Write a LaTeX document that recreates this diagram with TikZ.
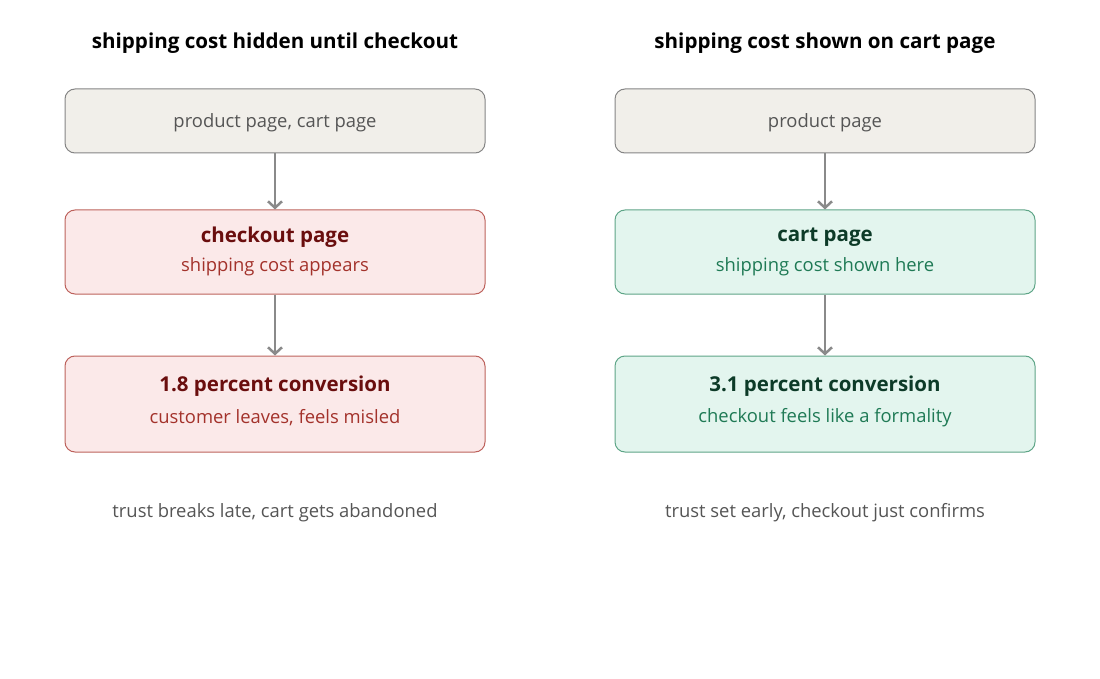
\documentclass[tikz,border=0pt]{standalone}
\usepackage{fontspec}
\setmainfont{Open Sans}
\usetikzlibrary{arrows.meta}

\definecolor{greyfill}{HTML}{F1EFEA}
\definecolor{greyline}{HTML}{858585}
\definecolor{greytext}{HTML}{555555}
\definecolor{redfill}{HTML}{FBE9E9}
\definecolor{redline}{HTML}{BD625C}
\definecolor{redhead}{HTML}{6A0E0E}
\definecolor{redsub}{HTML}{A3322B}
\definecolor{greenfill}{HTML}{E3F5EE}
\definecolor{greenline}{HTML}{5EA587}
\definecolor{greenhead}{HTML}{0D3B28}
\definecolor{greensub}{HTML}{1F7A55}
\definecolor{arrowgrey}{HTML}{8A8A8A}

\begin{document}
\begin{tikzpicture}[x=1pt,y=-1pt,
  every node/.style={inner sep=0pt},
  box/.style={draw, rounded corners=10pt, line width=1pt, minimum width=420pt},
  plain/.style={box, draw=greyline, fill=greyfill},
  bad/.style={box, draw=redline, fill=redfill},
  good/.style={box, draw=greenline, fill=greenfill},
  head/.style={font=\fontsize{20.6}{24}\selectfont\bfseries, text=black},
  big/.style={font=\fontsize{20.5}{24}\selectfont\bfseries},
  small/.style={font=\fontsize{18.4}{22}\selectfont},
  flow/.style={draw=arrowgrey, line width=2.5pt, -{Straight Barb[length=6.5pt,width=14pt]}}]
\useasboundingbox (0,0) rectangle (1100,679);

% left column
\node[head] (lhead) at (275,43) {shipping cost hidden until checkout};
\node[plain, minimum height=64pt] (ltop) at (275,121) {};
\node[small, text=greytext] (ltoptxt) at (275,123) {product page, cart page};
\node[bad, minimum height=84pt] (lmid) at (275,252) {};
\node[big, text=redhead] (lmidtxt) at (275,237) {checkout page};
\node[small, text=redsub] (lmidsub) at (275,267) {shipping cost appears};
\node[bad, minimum height=96pt] (lbot) at (275,404) {};
\node[big, text=redhead] (lbottxt) at (275,386) {1.8 percent conversion};
\node[small, text=redsub] (lbotsub) at (275,418) {customer leaves, feels misled};
\node[small, text=greytext] (lfoot) at (275,513) {trust breaks late, cart gets abandoned};
\draw[flow] (ltop) -- (lmid);
\draw[flow] (lmid) -- (lbot);

% right column
\node[head] (rhead) at (825,43) {shipping cost shown on cart page};
\node[plain, minimum height=64pt] (rtop) at (825,121) {};
\node[small, text=greytext] (rtoptxt) at (825,123) {product page};
\node[good, minimum height=84pt] (rmid) at (825,252) {};
\node[big, text=greenhead] (rmidtxt) at (825,237) {cart page};
\node[small, text=greensub] (rmidsub) at (825,267) {shipping cost shown here};
\node[good, minimum height=96pt] (rbot) at (825,404) {};
\node[big, text=greenhead] (rbottxt) at (825,386) {3.1 percent conversion};
\node[small, text=greensub] (rbotsub) at (825,418) {checkout feels like a formality};
\node[small, text=greytext] (rfoot) at (825,513) {trust set early, checkout just confirms};
\draw[flow] (rtop) -- (rmid);
\draw[flow] (rmid) -- (rbot);
\end{tikzpicture}
\end{document}
